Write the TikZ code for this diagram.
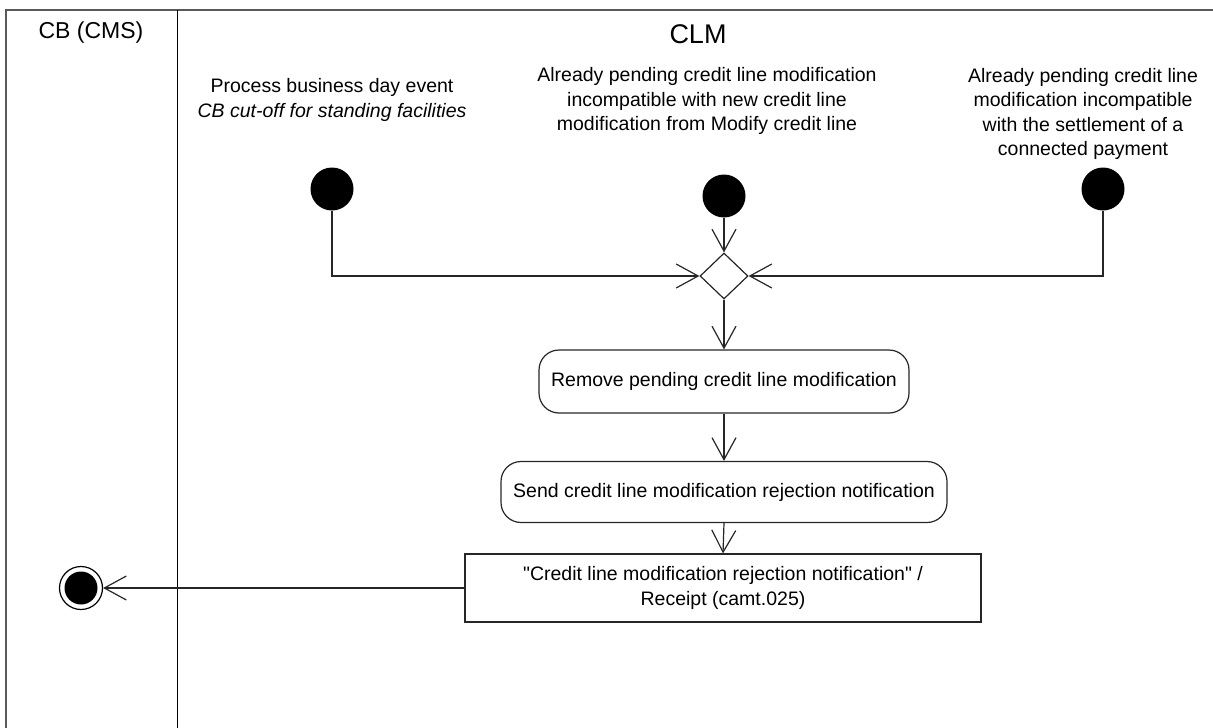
\documentclass[tikz,border=0pt]{standalone}
\usepackage{fontspec}
\setmainfont{Liberation Sans}
\newfontfamily\qfont{Liberation Sans}
\newcommand{\sq}{{\qfont"}}
\usetikzlibrary{shapes.geometric,arrows.meta}
\begin{document}
\begin{tikzpicture}[x=1pt,y=-1pt,
  txt/.style={font=\fontsize{19.5}{24.5}\selectfont},
  lbl/.style={txt,align=center,inner sep=0pt},
  act/.style={txt,draw=black!85,line width=1.2pt,rounded corners=20pt,minimum height=63pt,align=center,inner sep=0pt},
  obj/.style={txt,draw=black!85,line width=1.2pt,minimum height=68pt,align=center,inner sep=0pt},
  startn/.style={circle,fill=black,minimum size=43pt,inner sep=0pt},
  decn/.style={diamond,draw=black!85,line width=1.2pt,fill=white,minimum width=48pt,minimum height=46pt,inner sep=0pt},
  flow/.style={draw=black!85,line width=1.2pt,-{Straight Barb[length=22pt,width=24pt,line width=1.2pt]}},
  lane/.style={draw=black!65,line width=2pt}
]
\useasboundingbox (0,0) rectangle (1213,728);
% swimlanes
\draw[lane] (6,728) -- (6,10) -- (1213,10);
\draw[black,line width=1pt] (177,10) -- (177,728);
\node[font=\fontsize{23}{27}\selectfont] (cb) at (91,33) {CB (CMS)};
\node[font=\fontsize{27}{31}\selectfont] (clm) at (698,34) {CLM};
% labels
\node[lbl] (l1) at (332,100) {Process business day event\\\itshape CB cut-off for standing facilities};
\node[lbl] (l2) at (707,101) {Already pending credit line modification\\incompatible with new credit line\\modification from Modify credit line};
\node[lbl] (l3) at (1083,114) {Already pending credit line\\modification incompatible\\with the settlement of a\\connected payment};
% nodes
\node[startn] (s1) at (332,189) {};
\node[startn] (s2) at (724,196) {};
\node[startn] (s3) at (1103,189) {};
\node[decn] (dec) at (724,276) {};
\node[act,minimum width=370pt] (a1) at (724,381.5) {Remove pending credit line modification};
\node[act,minimum width=446pt,minimum height=61pt] (a2) at (724,492) {Send credit line modification rejection notification};
\node[obj,minimum width=516pt] (a3) at (723,588) {\sq Credit line modification rejection notification\sq{} /\\Receipt (camt.025)};
\node[circle,draw=black,line width=1.2pt,fill=white,minimum size=43pt,inner sep=0pt] (endn) at (81,588) {};
\node[circle,fill=black,minimum size=33pt,inner sep=0pt] (endi) at (81,588) {};
% connectors
\draw[flow] (s1.south) |- (dec.west);
\draw[flow] (s2.south) -- (dec.north);
\draw[flow] (s3.south) |- (dec.east);
\draw[flow] (dec.south) -- (a1.north);
\draw[flow] (a1.south) -- (a2.north);
\draw[flow] (a2.south) -- (a3.north);
\draw[flow] (a3.west) -- (endn.east);
\end{tikzpicture}
\end{document}
